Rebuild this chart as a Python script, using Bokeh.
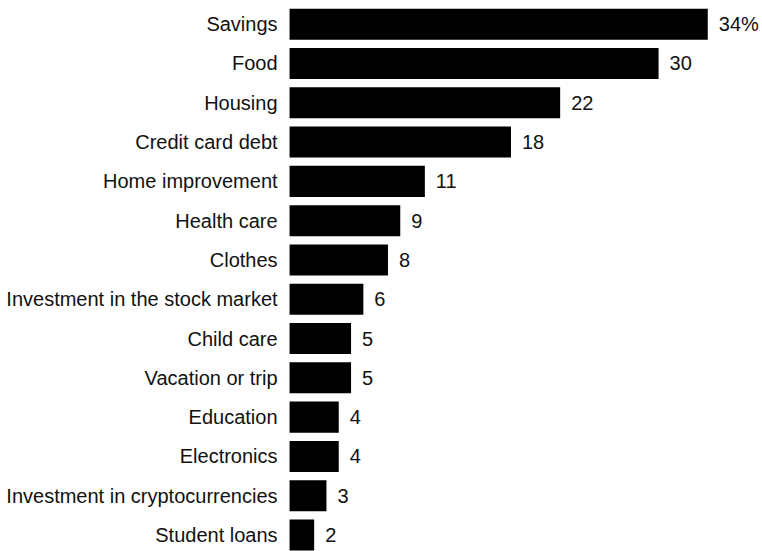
from bokeh.plotting import figure
from bokeh.models import Range1d, ColumnDataSource
from bokeh.core.properties import value
from bokeh.embed import file_html
from bokeh.resources import INLINE

categories = ["Savings", "Food", "Housing", "Credit card debt", "Home improvement",
              "Health care", "Clothes", "Investment in the stock market", "Child care",
              "Vacation or trip", "Education", "Electronics",
              "Investment in cryptocurrencies", "Student loans"]
values = [34, 30, 22, 18, 11, 9, 8, 6, 5, 5, 4, 4, 3, 2]
value_labels = ["34%", "30", "22", "18", "11", "9", "8", "6", "5", "5", "4", "4", "3", "2"]

ypos = list(range(len(categories)))
src = ColumnDataSource(dict(y=ypos, v=values, cat=categories, lab=value_labels,
                            zero=[0] * len(values)))

p = figure(width=762, height=551, output_backend="svg", toolbar_location=None,
           x_range=Range1d(-23.5, 38.45), y_range=Range1d(13.42, -0.603),
           min_border=0, outline_line_color=None, background_fill_color="white",
           border_fill_color="white")
p.xaxis.visible = False
p.yaxis.visible = False
p.grid.visible = False

p.hbar(y="y", left=0, right="v", height=0.79, source=src, fill_color="black",
       line_color=None)

font = value("Liberation Sans")
p.text(x="zero", y="y", text="cat", source=src, x_offset=-12, text_align="right",
       text_baseline="middle", text_font=font, text_font_size="20px",
       text_color="#111111")
p.text(x="v", y="y", text="lab", source=src, x_offset=11, text_align="left",
       text_baseline="middle", text_font=font, text_font_size="20px",
       text_color="#111111")

open("out.html", "w").write(file_html(p, INLINE))
